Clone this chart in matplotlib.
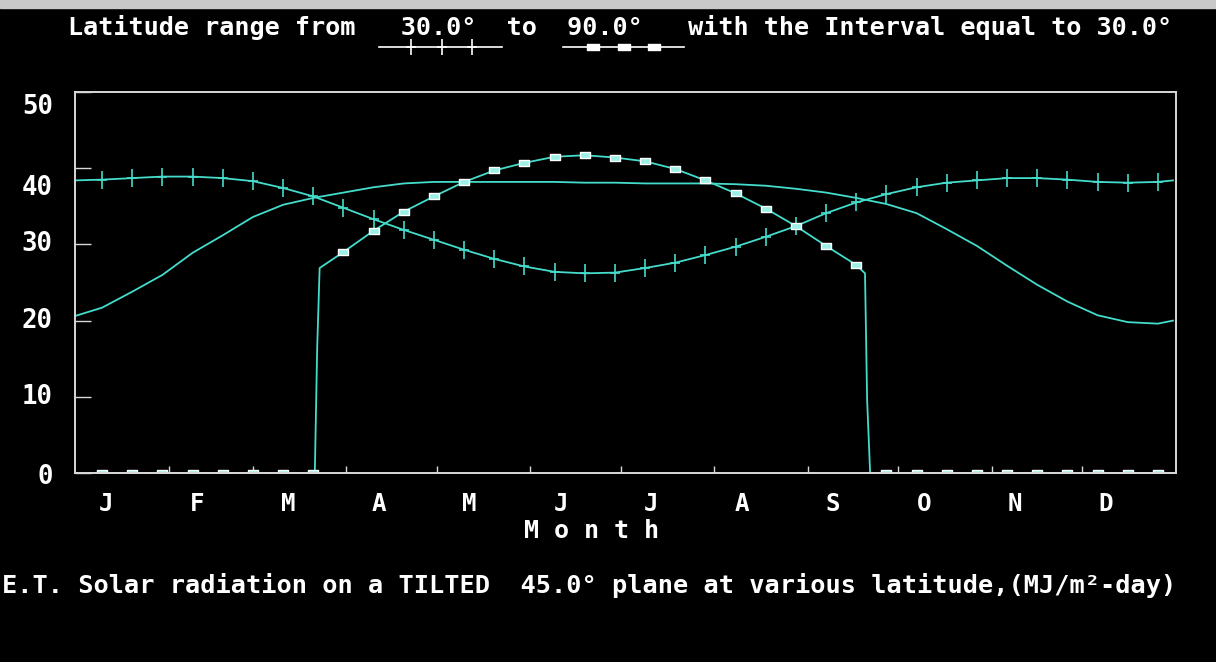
import numpy as np
import matplotlib
matplotlib.use('Agg')
import matplotlib.pyplot as plt
import matplotlib.transforms as mtransforms
from matplotlib.path import Path
from matplotlib.lines import Line2D
from matplotlib.patches import Rectangle

# Day of year for the 30 and 60 degree curves (points every 10 days plus the ends)
days = [1] + list(range(10, 361, 10)) + [365]

# 30 deg latitude (crosses)
vals_30 = [38.4, 38.5, 38.7, 38.9, 38.9, 38.7, 38.3, 37.4, 36.3, 34.8, 33.3,
           31.9, 30.6, 29.3, 28.1, 27.1, 26.4, 26.2, 26.3, 26.9, 27.6, 28.6,
           29.7, 31.0, 32.4, 34.1, 35.5, 36.6, 37.5, 38.1, 38.4, 38.7, 38.7,
           38.5, 38.2, 38.1, 38.2, 38.4]

# 60 deg latitude (plain line)
vals_60 = [20.6, 21.7, 23.8, 26.0, 28.9, 31.2, 33.6, 35.2, 36.1, 36.8, 37.5,
           38.0, 38.2, 38.2, 38.2, 38.2, 38.2, 38.1, 38.1, 38.0, 38.0, 38.0,
           37.9, 37.7, 37.3, 36.8, 36.1, 35.3, 34.1, 32.0, 29.8, 27.2, 24.7,
           22.5, 20.7, 19.8, 19.6, 20.0]

# 90 deg latitude (squares), zero during polar night
days_90 = [1, 10, 20, 30, 40, 50, 60, 70, 80, 80.5, 81.3, 82.1,
           90, 100, 110, 120, 130, 140, 150, 160, 170, 180, 190, 200, 210,
           220, 230, 240, 250, 260, 262.9, 263.6, 264.6,
           270, 280, 290, 300, 310, 320, 330, 340, 350, 360, 365]
vals_90 = [0, 0, 0, 0, 0, 0, 0, 0, 0, 0, 16.6, 26.9,
           29.0, 31.8, 34.3, 36.3, 38.2, 39.7, 40.7, 41.5, 41.7, 41.4, 40.9,
           39.9, 38.4, 36.7, 34.7, 32.4, 29.8, 27.3, 26.2, 9.6, 0,
           0, 0, 0, 0, 0, 0, 0, 0, 0, 0, 0]

months = ['J', 'F', 'M', 'A', 'M', 'J', 'J', 'A', 'S', 'O', 'N', 'D']
month_starts = [32, 60, 91, 121, 152, 182, 213, 244, 274, 305, 335]
y_ticks = [0, 10, 20, 30, 40, 50]

cyan = '#44dccb'
grey = '#d8d8d8'
mono = 'DejaVu Sans Mono'
W, H = 1216, 662

fig = plt.figure(figsize=(W / 100, H / 100), dpi=100, facecolor='black')
ax = fig.add_axes([75 / W, 1 - 473 / H, (1176 - 75) / W, (473 - 92) / H])
ax.set_facecolor('black')

# marker shapes: tall thin cross and flat little box
cross = Path([(-0.3, 0), (0.3, 0), (0, -0.5), (0, 0.5)],
             [Path.MOVETO, Path.LINETO, Path.MOVETO, Path.LINETO])
box = Path([(-0.5, -0.3), (0.5, -0.3), (0.5, 0.3), (-0.5, 0.3), (-0.5, -0.3)],
           [Path.MOVETO, Path.LINETO, Path.LINETO, Path.LINETO, Path.CLOSEPOLY])

mk = [i for i, d in enumerate(days) if d % 10 == 0]
mk90 = [i for i, d in enumerate(days_90) if d % 10 == 0]

ax.plot(days, vals_60, color=cyan, lw=1.3)
ax.plot(days, vals_30, color=cyan, lw=1.3, marker=cross, markersize=13,
        markeredgewidth=1.2, markevery=mk)
ax.plot(days_90, vals_90, color=cyan, lw=1.3, marker=box, markersize=7,
        markeredgewidth=1.0, markeredgecolor='white', markerfacecolor='#9cefe5',
        markevery=mk90)

ax.set_xlim(1, 366)
ax.set_ylim(0, 50)
for s in ax.spines.values():
    s.set_color(grey)
    s.set_linewidth(1.4)

# month boundary ticks (minor) and month letters (major, no tick)
ax.set_xticks(month_starts, minor=True)
ax.tick_params(axis='x', which='minor', direction='in', length=5, width=1,
               color=grey)
ax.set_xticks(np.linspace(11.3, 342.8, 12))
ax.set_xticklabels(months)
ax.tick_params(axis='x', which='major', length=0, pad=14, labelcolor='white',
               labelsize=17.5)
for lab in ax.get_xticklabels():
    lab.set_family(mono)
    lab.set_weight('bold')

# y ticks inward, labels drawn by hand (the 40 and 50 sit a bit low)
ax.set_yticks(y_ticks)
ax.set_yticklabels([])
ax.tick_params(axis='y', direction='in', length=11.5, width=1, color=grey)
drop = [3, 0, 0, 0, 14, 11]
for v, d in zip(y_ticks, drop):
    tr = mtransforms.offset_copy(ax.get_yaxis_transform(), fig=fig,
                                 x=-16, y=-d, units='points')
    ax.text(0, v, str(v), transform=tr, ha='right', va='center', color='white',
            family=mono, weight='bold', size=18.5)

# texts
fig.text(68 / W, 1 - 27 / H,
         'Latitude range from   30.0\u00b0  to  90.0\u00b0   with the Interval equal to 30.0\u00b0',
         ha='left', va='center', color='white', family=mono, weight='bold', size=18.1)
fig.text(591 / W, 1 - 531 / H, 'M o n t h', ha='center', va='center',
         color='white', family=mono, weight='bold', size=18)
fig.text(2 / W, 1 - 585 / H,
         'E.T. Solar radiation on a TILTED  45.0\u00b0 plane at various latitude,(MJ/m\u00b2-day)',
         ha='left', va='center', color='white', family=mono, weight='bold', size=18.2)

# legend samples under the latitude values
fig.add_artist(Line2D(np.array([379, 411, 442, 472, 502]) / W, [1 - 47 / H] * 5,
                      color='white', lw=1.2, marker=cross, markersize=12,
                      markeredgewidth=1.2, markevery=[1, 2, 3]))
fig.add_artist(Line2D(np.array([563, 593, 624, 654, 684]) / W, [1 - 47 / H] * 5,
                      color='white', lw=1.2, marker=box, markersize=8,
                      markeredgecolor='white', markerfacecolor='white',
                      markevery=[1, 2, 3]))

# light window border at the top
fig.patches.append(Rectangle((0, 1 - 8 / H), 1, 8 / H, transform=fig.transFigure,
                             color='#c8c8c8', zorder=0))

fig.savefig('out.png', dpi=100, facecolor='black')
